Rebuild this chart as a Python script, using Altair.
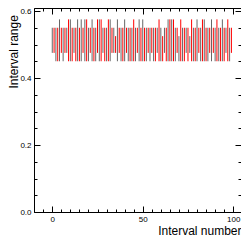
import altair as alt
import pandas as pd

# interval lower / upper bounds for intervals 0..99
L, l = 0.45, 0.475
H, h, m = 0.575, 0.55, 0.525
lows = [l, l, L, L, L, l, L, l, l, L,
        L, L, l, L, L, L, L, l, L, L,
        L, l, L, L, L, l, L, L, l, L,
        L, L, L, l, l, l, L, l, L, L,
        L, l, L, L, L, L, L, l, L, L,
        L, L, L, l, L, l, L, L, l, L,
        L, L, l, L, L, L, L, L, L, l,
        L, L, L, L, l, L, l, L, L, L,
        L, l, L, L, L, L, L, l, L, l,
        L, L, L, L, L, L, l, L, L, l]
highs = [h, h, h, h, H, h, h, h, h, H,
         H, h, h, h, H, h, H, h, H, H,
         h, h, H, h, h, H, H, H, h, h,
         h, H, H, h, h, m, H, h, h, h,
         H, h, h, h, h, H, h, h, H, h,
         H, h, h, h, h, h, h, h, h, H,
         h, m, h, h, H, H, H, H, h, h,
         m, H, h, h, h, h, m, H, h, h,
         H, h, h, H, H, h, h, h, H, h,
         h, H, h, h, H, h, h, H, h, h]
index = list(range(100))
groups = ["even" if i % 2 == 0 else "odd" for i in index]

x_major = [0, 50, 100]
x_ticks = list(range(-10, 105, 5))
y_major = [0.0, 0.2, 0.4, 0.6]
y_ticks = [round(0.05 * k, 2) for k in range(13)]

df = pd.DataFrame({"i": index, "low": lows, "high": highs, "g": groups})

W, Hh = 207, 204
FONT = "Liberation Sans"
xs = alt.Scale(domain=[-10.1, 104.3], nice=False, zero=False)
ys = alt.Scale(domain=[0, 0.609], nice=False, zero=False)

x_tick_size = {"condition": {"test": "datum.value % 50 === 0", "value": 6}, "value": 3}
y_tick_size = {"condition": {"test": "datum.value === 0 || datum.value === 0.2 || datum.value === 0.4 || datum.value === 0.6", "value": 6}, "value": 3}

base = alt.Chart(df)

main = base.mark_rule(strokeWidth=1).encode(
    x=alt.X("i:Q", scale=xs, axis=alt.Axis(
        orient="bottom", values=x_major, ticks=False, grid=False, labelPadding=3,
        labelFontSize=8, labelFont=FONT, labelColor="black", domainColor="black",
        title="Interval number", titleFont=FONT, titleFontSize=12, titleFontWeight="normal",
        titleColor="black", titleAlign="right", titleAnchor="end", titleX=W, titleY=22,
        titleBaseline="alphabetic")),
    y=alt.Y("low:Q", scale=ys, axis=alt.Axis(
        orient="left", values=y_major, format=".1f", ticks=False, grid=False, labelPadding=3,
        labelFontSize=8, labelFont=FONT, labelColor="black", domainColor="black",
        title="Interval range", titleFont=FONT, titleFontSize=12, titleFontWeight="normal",
        titleColor="black", titleAngle=270, titleAlign="left", titleX=-17, titleY=80,
        titleBaseline="alphabetic")),
    y2="high:Q",
    color=alt.Color("g:N", scale=alt.Scale(domain=["even", "odd"], range=["#666666", "#ff0000"]), legend=None),
)

ticks_in = base.mark_rule(opacity=0).encode(
    x=alt.X("i:Q", scale=xs, axis=alt.Axis(
        orient="top", offset=-Hh, values=x_ticks, labels=False, domain=False, grid=False,
        tickColor="black", tickSize=x_tick_size, title=None)),
    y=alt.Y("low:Q", scale=ys, axis=alt.Axis(
        orient="right", offset=-W, values=y_ticks, labels=False, domain=False, grid=False,
        tickColor="black", tickSize=y_tick_size, title=None)),
)

frame = base.mark_rule(opacity=0).encode(
    x=alt.X("i:Q", scale=xs, axis=alt.Axis(
        orient="bottom", offset=-Hh, values=x_ticks, labels=False, domain=True, grid=False,
        domainColor="black", tickColor="black", tickSize=x_tick_size, title=None)),
    y=alt.Y("low:Q", scale=ys, axis=alt.Axis(
        orient="left", offset=-W, values=y_ticks, labels=False, domain=True, grid=False,
        domainColor="black", tickColor="black", tickSize=y_tick_size, title=None)),
)

chart = alt.layer(main, ticks_in, frame).resolve_axis(
    x="independent", y="independent"
).properties(
    width=W, height=Hh,
    autosize=alt.AutoSizeParams(type="none"),
    padding={"left": 26, "top": 0, "right": 0, "bottom": 26},
    background="white",
).configure_view(stroke=None)

chart.save("out.html", embed_options={"renderer": "svg", "actions": False})
